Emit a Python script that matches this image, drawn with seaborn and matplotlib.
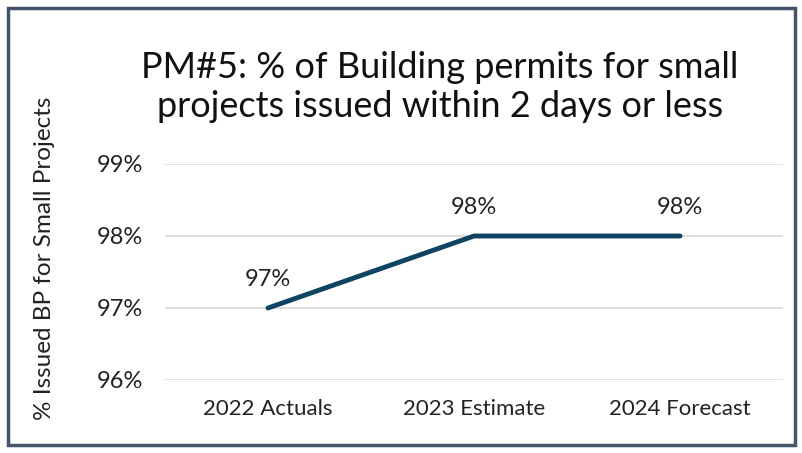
import matplotlib
matplotlib.use("Agg")
import matplotlib.pyplot as plt
import seaborn as sns
import pandas as pd
from matplotlib.patches import Rectangle

categories = ["2022 Actuals", "2023 Estimate", "2024 Forecast"]
values = [97, 98, 98]
yticks = [96, 97, 98, 99]

sns.set_style("white")
plt.rcParams["font.family"] = ["Lato", "DejaVu Sans"]

df = pd.DataFrame({"year": categories, "pct": values})

fig = plt.figure(figsize=(8.03, 4.53), dpi=100)
ax = fig.add_axes([165 / 803, 1 - 380 / 453, (783 - 165) / 803, (380 - 164) / 453])

line_color = "#0E4361"
sns.lineplot(data=df, x="year", y="pct", ax=ax, color=line_color, linewidth=3.5, sort=False)

ax.set_ylim(96, 99)
ax.set_xlim(-0.5, 2.5)
ax.set_yticks(yticks)
ax.set_yticklabels([f"{v}%" for v in yticks], fontsize=17, color="#222222")
ax.tick_params(axis="x", labelsize=16, colors="#222222", length=0, pad=14)
ax.tick_params(axis="y", length=0, pad=16)
ax.grid(axis="y", color="#D9D9D9", linewidth=1.2)
ax.set_axisbelow(True)
for s in ax.spines.values():
    s.set_visible(False)
ax.set_xlabel("")
ax.set_ylabel("")

for i, v in enumerate(values):
    ax.annotate(f"{v}%", (i, v), xytext=(0, 13), textcoords="offset points",
                ha="center", va="bottom", fontsize=17, color="#222222")

fig.text(440 / 803, 1 - 87 / 453, "PM#5: % of Building permits for small\nprojects issued within 2 days or less",
         ha="center", va="center", fontsize=26, color="#111111", linespacing=1.25)
fig.text(45 / 803, 1 - 258 / 453, "% Issued BP for Small Projects", rotation=90,
         ha="center", va="center", fontsize=17.5, color="#222222")

fig.patches.append(Rectangle((8 / 803, 8 / 453), 1 - 16 / 803, 1 - 16 / 453,
                             transform=fig.transFigure, fill=False,
                             edgecolor="#44546A", linewidth=2.5))

fig.savefig("out.png", dpi=100)
